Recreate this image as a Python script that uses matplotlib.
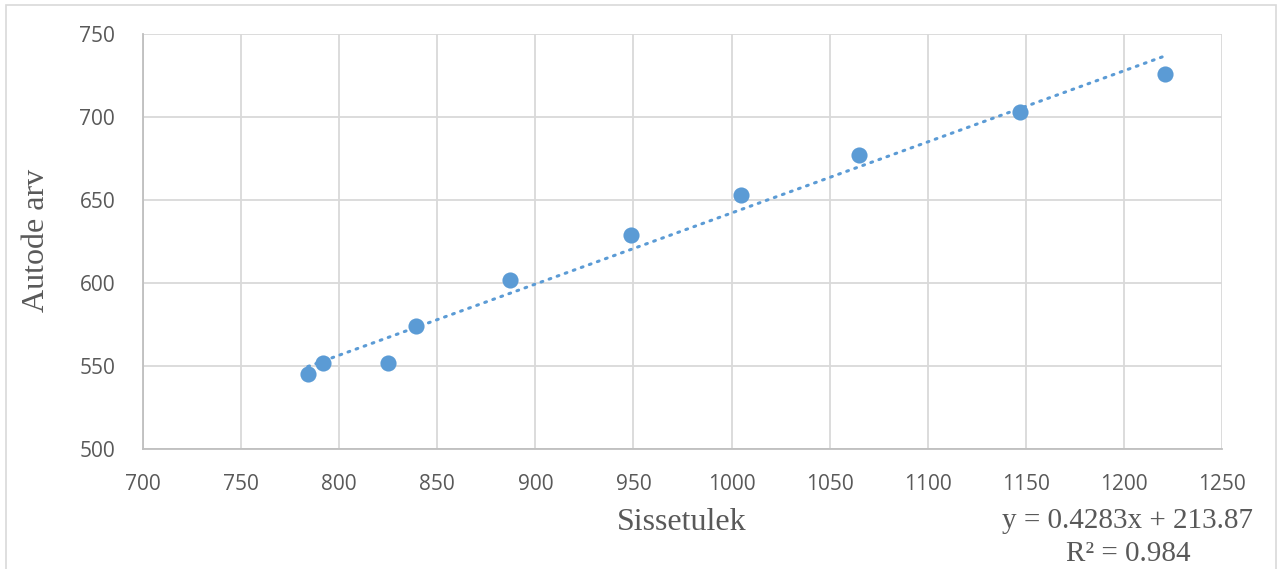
import numpy as np
import matplotlib.pyplot as plt
from matplotlib.patches import Rectangle

# andmed
sissetulek = [784, 792, 825, 839, 887, 949, 1005, 1065, 1147, 1221]
autode_arv = [545, 552, 552, 574, 602, 629, 653, 677, 703, 726]
x_ticks = [700, 750, 800, 850, 900, 950, 1000, 1050, 1100, 1150, 1200, 1250]
y_ticks = [500, 550, 600, 650, 700, 750]
slope, intercept = 0.4283, 213.87
r2 = 0.984

blue = "#5B9BD5"
grid_c = "#D9D9D9"
tick_font = "Open Sans"
serif = "Liberation Serif"

fig = plt.figure(figsize=(12.8, 5.69), dpi=100)
ax = fig.add_axes([143 / 1280, 1 - 449 / 569, (1222 - 143) / 1280, (449 - 34) / 569])

# raam ümber
fig.patches.append(Rectangle((6 / 1280, -0.05), (1276 - 6) / 1280, 1.05 - 5 / 569,
                             transform=fig.transFigure, fill=False,
                             edgecolor="#D9D9D9", linewidth=1.2))

ax.scatter(sissetulek, autode_arv, s=135, color=blue, zorder=3, linewidths=0)

xs = np.array([min(sissetulek), max(sissetulek)])
ax.plot(xs, slope * xs + intercept, color=blue, linewidth=2.2,
        linestyle=(0, (0.6, 2.2)), dash_capstyle="round", zorder=2)

ax.set_xlim(700, 1250)
ax.set_ylim(500, 750)
ax.set_xticks(x_ticks)
ax.set_yticks(y_ticks)
ax.grid(True, color=grid_c, linewidth=1.3)
ax.set_axisbelow(True)
for s in ["top", "right"]:
    ax.spines[s].set_visible(False)
for s in ["left", "bottom"]:
    ax.spines[s].set_color("#BFBFBF")
    ax.spines[s].set_linewidth(1.3)
ax.tick_params(length=0, labelsize=15, labelcolor="#595959")
ax.tick_params(axis="x", pad=18)
ax.tick_params(axis="y", pad=20)
for lbl in ax.get_xticklabels() + ax.get_yticklabels():
    lbl.set_fontfamily(tick_font)

fig.text(682 / 1280, 1 - 522 / 569, "Sissetulek", family=serif, fontsize=23,
         color="#595959", ha="center", va="center")
fig.text(36 / 1280, 1 - 240 / 569, "Autode arv", family=serif, fontsize=23,
         color="#595959", ha="center", va="center", rotation=90)

fig.text(1128 / 1280, 1 - 521 / 569, f"y = {slope}x + {intercept}", family=serif,
         fontsize=21, color="#595959", ha="center", va="center")
fig.text(1128 / 1280, 1 - 554 / 569, f"R² = {r2}", family=serif,
         fontsize=21, color="#595959", ha="center", va="center")

fig.savefig("out.png", dpi=100)
